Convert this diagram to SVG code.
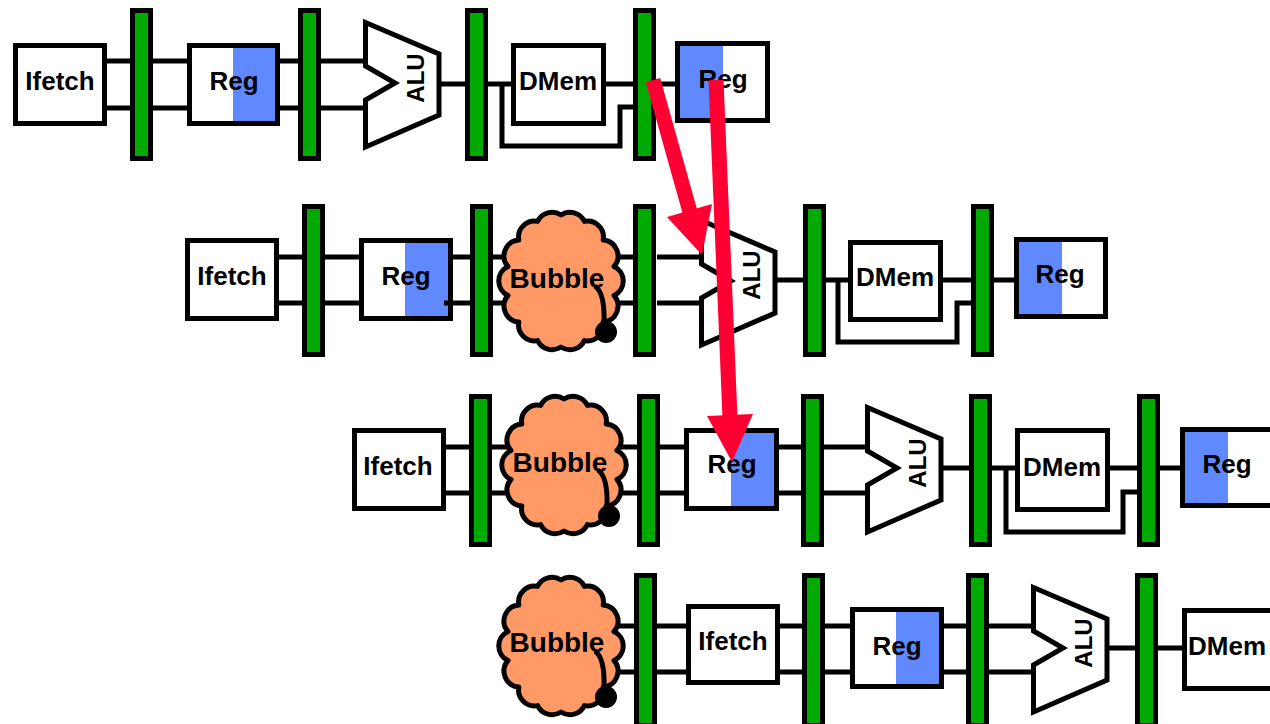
<svg xmlns="http://www.w3.org/2000/svg" xmlns:xlink="http://www.w3.org/1999/xlink" width="1270" height="724" viewBox="0 0 1270 724">
<style>
.box{fill:#fff;stroke:#000;stroke-width:5}
.blue{fill:#6088FF}
.latch{fill:#00AA00;stroke:#000;stroke-width:5}
.alu{fill:#fff;stroke:#000;stroke-width:5;stroke-linejoin:miter}
.cloud{fill:#FF9966;stroke:#000;stroke-width:5;stroke-linejoin:round}
.lbl{font-family:"Liberation Sans",Arial,sans-serif;font-weight:bold;font-size:26px;text-anchor:middle;fill:#000}
.alut{font-family:"Liberation Sans",Arial,sans-serif;font-weight:bold;font-size:24px;text-anchor:middle;fill:#000}
.bub{font-family:"Liberation Sans",Arial,sans-serif;font-weight:bold;font-size:28px;text-anchor:middle;fill:#000}
.wire{fill:none;stroke:#000;stroke-width:5;stroke-linejoin:miter}
.arrow{stroke:#FF0033;stroke-width:15;fill:none}
.head{fill:#FF0033}
</style>
<defs>
<polygon id="alu" class="alu" points="2.5,2.5 76,34 76,95 2.5,127 2.5,80 32,63 2.5,46"/>
<path id="cloud" class="cloud" d="M0,-66 A16,16 0 0 1 23.4,-59.6 A16,16 0 0 1 42.2,-41 A16,16 0 0 1 53,-14.5 A16,16 0 0 1 53,14.5 A16,16 0 0 1 42.2,41 A16,16 0 0 1 23.4,59.6 A16,16 0 0 1 0,66 A16,16 0 0 1 -23.4,59.6 A16,16 0 0 1 -42.2,41 A16,16 0 0 1 -53,14.5 A16,16 0 0 1 -53,-14.5 A16,16 0 0 1 -42.2,-41 A16,16 0 0 1 -23.4,-59.6 A16,16 0 0 1 0,-66 Z"/>
<g id="tail"><path d="M34,5 Q44,12 43,42" fill="none" stroke="#000" stroke-width="5"/><circle cx="45" cy="51" r="11" fill="#000"/></g>
</defs>
<rect width="1270" height="724" fill="#fff"/>

<g id="connectors" class="wire">
<path d="M107,61H130 M107,108H130 M153,61H187 M153,108H187 M280,61H298 M280,108H298 M321,61H366 M321,108H366 M438,84H465 M488,84H511 M502,84V146H620V107H633 M606,84H633 M656,84H675"/>
<path d="M279,257H302 M279,303H302 M325,257H359 M325,303H359 M453,257H470 M493,257H633 M493,303H633 M657,257H702 M657,303H702 M775,280H803 M826,280H848 M838,280V342H957V303H971 M943,280H971 M993,280H1014"/>
<path d="M446,447H469 M446,493H469 M492,447H637 M492,493H637 M660,447H684 M660,493H684 M779,447H801 M779,493H801 M823,447H868 M823,493H868 M941,468H969 M992,468H1015 M1006,468V532H1123V492H1137 M1110,468H1137 M1160,468H1180"/>
<path d="M600,626H634 M600,672H634 M657,626H686 M657,672H686 M780,626H802 M780,672H802 M824,626H850 M824,672H850 M944,626H966 M944,672H966 M988,626H1034 M988,672H1034 M1107,648H1135 M1157,648H1182"/>
</g>

<!-- Row 1 -->
<g id="r1-ifetch"><rect class="box" x="15.5" y="45.5" width="89" height="78"/><text class="lbl" x="60" y="90">Ifetch</text></g>
<g id="r1-latch1"><rect class="latch" x="132.5" y="10.5" width="18" height="148"/></g>
<g id="r1-reg"><rect class="box" x="189.5" y="45.5" width="88" height="78"/><rect class="blue" x="233" y="48" width="42" height="73"/><text class="lbl" x="234" y="90">Reg</text></g>
<g id="r1-latch2"><rect class="latch" x="300.5" y="10.5" width="18" height="148"/></g>
<g id="r1-alu"><use xlink:href="#alu" href="#alu" x="363" y="20"/><text class="alut" transform="translate(424,78) rotate(-90)">ALU</text></g>
<g id="r1-latch3"><rect class="latch" x="467.5" y="10.5" width="18" height="148"/></g>
<g id="r1-dmem"><rect class="box" x="513.5" y="45.5" width="90" height="78"/><text class="lbl" x="558" y="90">DMem</text></g>
<g id="r1-latch4"><rect class="latch" x="635.5" y="10.5" width="18" height="148"/></g>
<g id="r1-regwb"><rect class="box" x="677.5" y="43.5" width="90" height="77"/><rect class="blue" x="680" y="46" width="43" height="72"/><text class="lbl" x="723" y="88">Reg</text></g>

<!-- Row 2 -->
<g id="r2-ifetch"><rect class="box" x="187.5" y="240.5" width="89" height="78"/><text class="lbl" x="232" y="285">Ifetch</text></g>
<g id="r2-latch1"><rect class="latch" x="304.5" y="206.5" width="18" height="148"/></g>
<g id="r2-reg"><rect class="box" x="361.5" y="240.5" width="89" height="78"/><rect class="blue" x="405" y="243" width="43" height="73"/><text class="lbl" x="406" y="285">Reg</text></g>
<path class="wire" d="M444,303H470"/>
<g id="r2-latch2"><rect class="latch" x="472.5" y="206.5" width="18" height="148"/></g>
<g id="r2-bubble" transform="translate(561,281)"><use xlink:href="#cloud" href="#cloud"/><use xlink:href="#tail" href="#tail"/><text class="bub" x="-4" y="7">Bubble</text></g>
<g id="r2-latch3"><rect class="latch" x="635.5" y="206.5" width="18" height="148"/></g>
<g id="r2-alu"><use xlink:href="#alu" href="#alu" x="699" y="218"/><text class="alut" transform="translate(760,275) rotate(-90)">ALU</text></g>
<g id="r2-latch4"><rect class="latch" x="805.5" y="206.5" width="18" height="148"/></g>
<g id="r2-dmem"><rect class="box" x="850.5" y="242.5" width="90" height="77"/><text class="lbl" x="895" y="286">DMem</text></g>
<g id="r2-latch5"><rect class="latch" x="973.5" y="206.5" width="18" height="148"/></g>
<g id="r2-regwb"><rect class="box" x="1016.5" y="239.5" width="89" height="77"/><rect class="blue" x="1019" y="242" width="43" height="72"/><text class="lbl" x="1060" y="283">Reg</text></g>

<!-- Row 3 -->
<g id="r3-ifetch"><rect class="box" x="354.5" y="430.5" width="89" height="78"/><text class="lbl" x="398" y="475">Ifetch</text></g>
<g id="r3-latch1"><rect class="latch" x="471.5" y="396.5" width="18" height="148"/></g>
<g id="r3-bubble" transform="translate(564,465)"><use xlink:href="#cloud" href="#cloud"/><use xlink:href="#tail" href="#tail"/><text class="bub" x="-4" y="7">Bubble</text></g>
<g id="r3-latch2"><rect class="latch" x="639.5" y="396.5" width="18" height="148"/></g>
<g id="r3-reg"><rect class="box" x="686.5" y="430.5" width="90" height="78"/><rect class="blue" x="731" y="433" width="43" height="73"/><text class="lbl" x="732" y="473">Reg</text></g>
<g id="r3-latch3"><rect class="latch" x="803.5" y="396.5" width="18" height="148"/></g>
<g id="r3-alu"><use xlink:href="#alu" href="#alu" x="865" y="405"/><text class="alut" transform="translate(926,463) rotate(-90)">ALU</text></g>
<g id="r3-latch4"><rect class="latch" x="971.5" y="396.5" width="18" height="148"/></g>
<g id="r3-dmem"><rect class="box" x="1017.5" y="430.5" width="90" height="79"/><text class="lbl" x="1062" y="476">DMem</text></g>
<g id="r3-latch5"><rect class="latch" x="1139.5" y="396.5" width="18" height="148"/></g>
<g id="r3-regwb"><rect class="box" x="1182.5" y="429.5" width="100" height="76"/><rect class="blue" x="1185" y="432" width="43" height="71"/><text class="lbl" x="1227" y="473">Reg</text></g>

<!-- Row 4 -->
<g id="r4-bubble" transform="translate(561,646)"><use xlink:href="#cloud" href="#cloud"/><use xlink:href="#tail" href="#tail"/><text class="bub" x="-4" y="6">Bubble</text></g>
<g id="r4-latch1"><rect class="latch" x="636.5" y="575.5" width="18" height="150"/></g>
<g id="r4-ifetch"><rect class="box" x="688.5" y="606.5" width="89" height="76"/><text class="lbl" x="733" y="650">Ifetch</text></g>
<g id="r4-latch2"><rect class="latch" x="804.5" y="575.5" width="18" height="150"/></g>
<g id="r4-reg"><rect class="box" x="852.5" y="609.5" width="89" height="77"/><rect class="blue" x="896" y="612" width="43" height="72"/><text class="lbl" x="897" y="655">Reg</text></g>
<g id="r4-latch3"><rect class="latch" x="968.5" y="575.5" width="18" height="150"/></g>
<g id="r4-alu"><use xlink:href="#alu" href="#alu" x="1031" y="585"/><text class="alut" transform="translate(1092,643) rotate(-90)">ALU</text></g>
<g id="r4-latch4"><rect class="latch" x="1137.5" y="575.5" width="18" height="150"/></g>
<g id="r4-dmem"><rect class="box" x="1184.5" y="610.5" width="90" height="78"/><text class="lbl" x="1227" y="655">DMem</text></g>

<!-- Forwarding arrows -->
<g id="forwarding-arrows">
<line class="arrow" x1="653" y1="80" x2="690" y2="212"/>
<polygon class="head" points="667,217 712,204 702,255"/>
<line class="arrow" x1="716" y1="80" x2="730" y2="418"/>
<polygon class="head" points="707,416 753,414 732,462"/>
</g>
</svg>
